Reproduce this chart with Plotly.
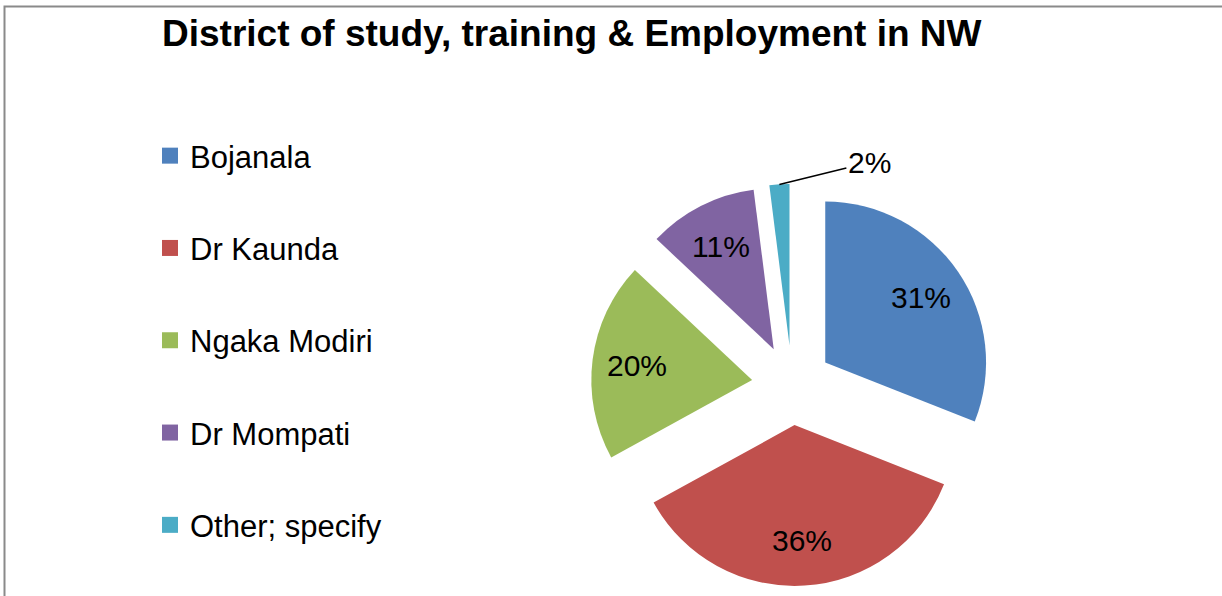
import math
import plotly.graph_objects as go

# ---- data ----
categories = ["Bojanala", "Dr Kaunda", "Ngaka Modiri", "Dr Mompati", "Other; specify"]
percent_values = [31, 36, 20, 11, 2]
slice_colors = ["#4F81BD", "#C0504D", "#9BBB59", "#8064A2", "#4BACC6"]
title_text = "District of study, training & Employment in NW"

W, H = 1222, 596
FONT = "Liberation Sans, Arial, sans-serif"
PULL = 0.25
LABEL_FRAC = 0.72   # radial position of inside labels (fraction of radius)

# pie box in pixels (left, right, top, bottom)
PX0, PX1, PY0, PY1 = 591, 993, 184, 586
dom_x = [PX0 / W, PX1 / W]
dom_y = [(H - PY1) / H, (H - PY0) / H]

total = sum(percent_values)
pct_text = [f"{round(100 * v / total)}%" for v in percent_values]
small = [v / total < 0.05 for v in percent_values]

fig = go.Figure()

fig.add_trace(go.Pie(
    labels=categories,
    values=percent_values,
    sort=False,
    direction="clockwise",
    rotation=0,
    pull=[PULL] * len(categories),
    marker=dict(colors=slice_colors, line=dict(width=0)),
    textinfo="none",
    showlegend=False,
    hoverinfo="label+percent",
    domain=dict(x=dom_x, y=dom_y),
))

# data labels placed along each slice's mid-angle
cx = (PX0 + PX1) / 2
cy = (PY0 + PY1) / 2
r = min(PX1 - PX0, PY1 - PY0) / 2 / (1 + PULL)
annotations = []
cum = 0
for v, s, t in zip(percent_values, small, pct_text):
    mid = (cum + v / 2) / total
    cum += v
    ang = 2 * math.pi * mid
    sx, sy = math.sin(ang), -math.cos(ang)
    if s:
        px = cx + (1 + PULL) * r * sx
        py = cy + (1 + PULL) * r * sy
        annotations.append(dict(
            x=px / W, y=(H - py) / H, xref="paper", yref="paper",
            text=t, showarrow=True, arrowhead=0, arrowwidth=1.5, arrowcolor="black",
            ax=90, ay=-22, standoff=0,
            font=dict(family=FONT, size=30, color="black"),
        ))
    else:
        px = cx + (PULL + LABEL_FRAC) * r * sx
        py = cy + (PULL + LABEL_FRAC) * r * sy
        annotations.append(dict(
            x=px / W, y=(H - py) / H, xref="paper", yref="paper",
            text=t, showarrow=False, xanchor="center", yanchor="middle",
            font=dict(family=FONT, size=30, color="black"),
        ))

# legend entries
for i, (cat, col) in enumerate(zip(categories, slice_colors)):
    fig.add_trace(go.Scatter(
        x=[None], y=[None], mode="markers", name=cat,
        marker=dict(symbol="square", size=17, color=col),
        legendgroup=f"g{i}", showlegend=True,
    ))

fig.update_layout(
    width=W, height=H,
    margin=dict(l=0, r=0, t=0, b=0),
    paper_bgcolor="white", plot_bgcolor="white",
    xaxis=dict(visible=False), yaxis=dict(visible=False),
    title=dict(text=f"<b>{title_text}</b>", x=162 / W, xanchor="left",
               y=(H - 33) / H, yanchor="middle",
               font=dict(family=FONT, size=37, color="black")),
    legend=dict(x=150 / W, xanchor="left", y=(H - 552) / H, yanchor="bottom",
                font=dict(family=FONT, size=31, color="black"),
                tracegroupgap=49, bgcolor="rgba(0,0,0,0)", itemwidth=30),
    annotations=annotations,
    shapes=[dict(type="rect", xref="paper", yref="paper",
                 x0=4.5 / W, x1=1.05, y0=-0.05, y1=(H - 6.5) / H,
                 line=dict(color="#8a8a8a", width=2), fillcolor="rgba(0,0,0,0)",
                 layer="above")],
)

fig.write_html("out.html",
               config={"displayModeBar": False},
               post_script="document.body.style.margin='0';document.body.style.overflow='hidden';")
